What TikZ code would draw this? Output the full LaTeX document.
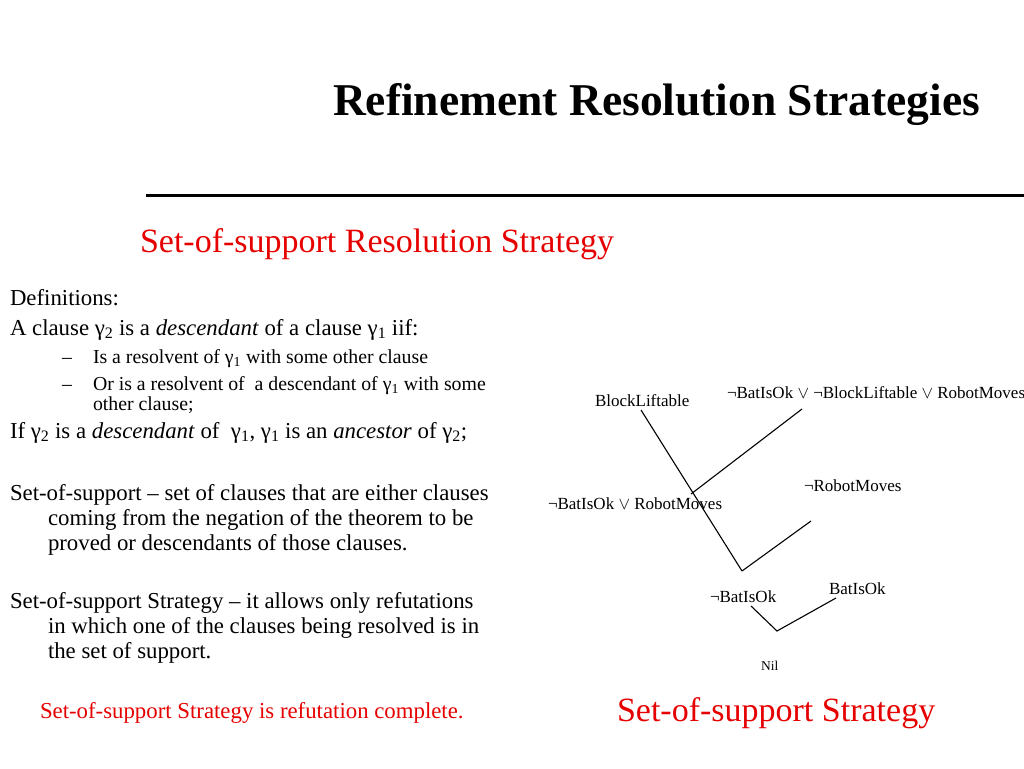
\documentclass[tikz,border=0pt]{standalone}
\usepackage{fontspec}
\setmainfont{Liberation Serif}
\definecolor{slidered}{RGB}{230,0,0}
\begin{document}
\begin{tikzpicture}[x=1pt,y=-1pt,
  txt/.style={anchor=base west,inner sep=0pt,outer sep=0pt},
  body/.style={txt,font=\fontsize{22.8}{26}\selectfont},
  sub/.style={txt,font=\fontsize{19.8}{22}\selectfont},
  tree/.style={txt,font=\fontsize{17}{20}\selectfont},
  edge/.style={line width=1.1pt,black}]
\useasboundingbox[fill=white] (0,0) rectangle (1024,768);
% title
\node[txt,font=\fontsize{45.5}{50}\selectfont\bfseries] (title) at (333,115) {Refinement Resolution Strategies};
\coordinate (ruleA) at (146,195);
\coordinate (ruleB) at (1024,195);
\draw[line width=3pt] (ruleA) -- (ruleB);
\node[txt,font=\fontsize{34}{38}\selectfont,text=slidered] (subtitle) at (140,252) {Set-of-support Resolution Strategy};
% left text
\node[body] (d1) at (10,305) {Definitions:};
\node[body] (d2) at (10,335) {A clause γ\textsubscript{2} is a \textit{descendant} of a clause γ\textsubscript{1} iif:};
\node[sub] (b1) at (62,363) {–};
\node[sub] (b1t) at (93,363) {Is a resolvent of γ\textsubscript{1} with some other clause};
\node[sub] (b2) at (62,390) {–};
\node[sub] (b2t) at (93,390) {Or is a resolvent of\ \ a descendant of γ\textsubscript{1} with some};
\node[sub] (b2u) at (93,410) {other clause;};
\node[body] (d3) at (10,438) {If γ\textsubscript{2} is a \textit{descendant} of\ \ γ\textsubscript{1}, γ\textsubscript{1} is an \textit{ancestor} of γ\textsubscript{2};};
\node[body] (s1) at (10,500) {Set-of-support – set of clauses that are either clauses};
\node[body] (s2) at (48,525) {coming from the negation of the theorem to be};
\node[body] (s3) at (48,550) {proved or descendants of those clauses.};
\node[body] (t1) at (10,608) {Set-of-support Strategy – it allows only refutations};
\node[body] (t2) at (48,633) {in which one of the clauses being resolved is in};
\node[body] (t3) at (48,658) {the set of support.};
\node[body,text=slidered] (red1) at (40,718) {Set-of-support Strategy is refutation complete.};
\node[txt,font=\fontsize{34}{38}\selectfont,text=slidered] (red2) at (617,721) {Set-of-support Strategy};
% tree
\node[tree] (bl) at (595,406) {BlockLiftable};
\node[tree] (cl) at (727,398) {¬BatIsOk $\vee$ ¬BlockLiftable $\vee$ RobotMoves};
\node[tree] (br) at (548,509) {¬BatIsOk $\vee$ RobotMoves};
\node[tree] (nr) at (804,491) {¬RobotMoves};
\node[tree] (nb) at (710,602) {¬BatIsOk};
\node[tree] (bo) at (829,594) {BatIsOk};
\node[txt,font=\fontsize{13.5}{16}\selectfont] (nil) at (761,670) {Nil};
\coordinate (blE) at (641,410);
\coordinate (j2) at (742,571);
\coordinate (clE) at (802,409);
\coordinate (j1) at (691,494);
\coordinate (nrE) at (811,521);
\coordinate (nbE) at (751,606);
\coordinate (j3) at (777,631);
\coordinate (boE) at (836,598);
\draw[edge] (blE) -- (j2);
\draw[edge] (clE) -- (j1);
\draw[edge] (nrE) -- (j2);
\draw[edge] (nbE) -- (j3) -- (boE);
\end{tikzpicture}
\end{document}
